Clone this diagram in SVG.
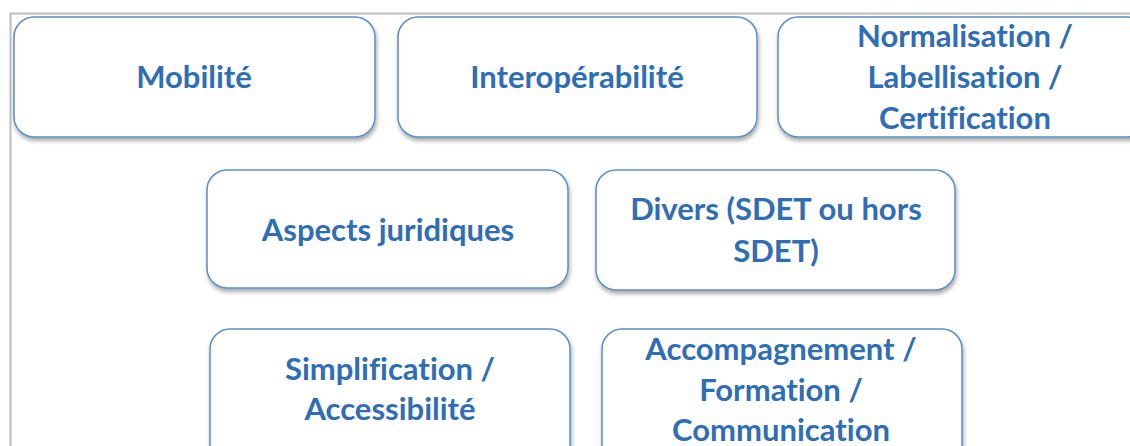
<svg xmlns="http://www.w3.org/2000/svg" width="1130" height="446" viewBox="0 0 1130 446">
<style>
.box{fill:#ffffff;stroke:#5B8FC7;stroke-width:1.5;filter:url(#sh)}
.t{font-family:Lato,"Liberation Sans",sans-serif;font-weight:bold;font-size:31px;fill:#2F6DB5;text-anchor:middle;font-variant-ligatures:none}
</style>
<defs>
<filter id="sh" x="-10%" y="-10%" width="120%" height="130%">
<feDropShadow dx="1" dy="3" stdDeviation="2" flood-color="#000" flood-opacity="0.35"/>
</filter>
</defs>
<rect x="0" y="0" width="1130" height="446" fill="#ffffff"/>
<path d="M10.5 446 V13.5 H1130" fill="none" stroke="#BEBEBE" stroke-width="2"/>
<g id="mobilite"><rect class="box" x="14" y="17" width="361" height="120" rx="20"/><text class="t" x="194" y="88">Mobilité</text></g>
<g id="interop"><rect class="box" x="398" y="17" width="359" height="120" rx="20"/><text class="t" x="577" y="88">Interopérabilité</text></g>
<g id="normalisation"><rect class="box" x="778" y="17" width="370" height="120" rx="20"/><text class="t" x="965" y="47">Normalisation /</text><text class="t" x="965" y="88">Labellisation /</text><text class="t" x="965" y="129">Certification</text></g>
<g id="juridique"><rect class="box" x="207" y="170" width="361" height="118" rx="20"/><text class="t" x="388" y="241">Aspects juridiques</text></g>
<g id="divers"><rect class="box" x="596" y="170" width="359" height="120" rx="20"/><text class="t" x="776" y="220">Divers (SDET ou hors</text><text class="t" x="776" y="262">SDET)</text></g>
<g id="simplification"><rect class="box" x="210" y="329" width="360" height="140" rx="20"/><text class="t" x="390" y="380">Simplification /</text><text class="t" x="390" y="420">Accessibilité</text></g>
<g id="accompagnement"><rect class="box" x="602" y="329" width="360" height="140" rx="20"/><text class="t" x="781" y="360">Accompagnement /</text><text class="t" x="781" y="401">Formation /</text><text class="t" x="781" y="441">Communication</text></g>
<g id="connectors"></g>
</svg>
